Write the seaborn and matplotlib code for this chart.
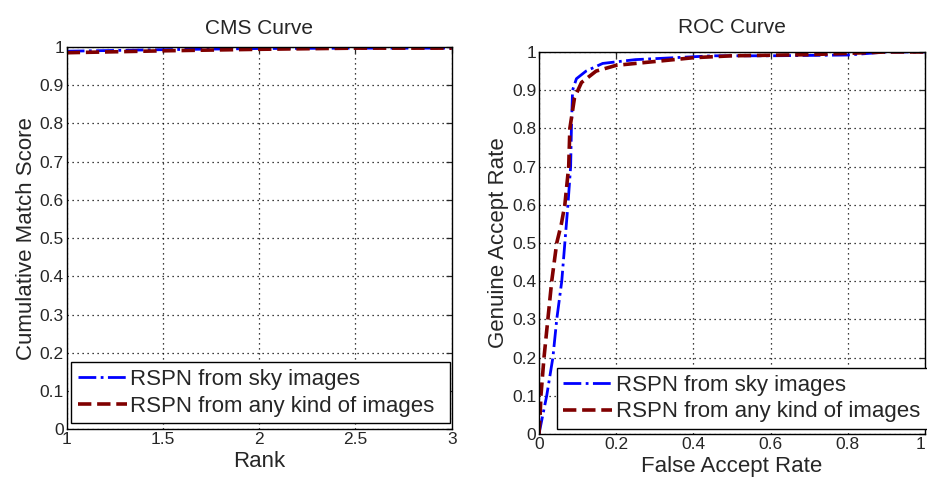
import pandas as pd
import matplotlib
matplotlib.use("Agg")
import matplotlib.pyplot as plt
import seaborn as sns

# CMS curve data
rank = [1, 1.5, 2, 2.5, 3]
cms_sky = [0.989, 0.993, 0.996, 0.997, 0.997]
cms_any = [0.985, 0.990, 0.994, 0.997, 0.997]

# ROC curve data
far_sky = [0, 0.007, 0.02, 0.036, 0.046, 0.059, 0.067, 0.075, 0.082, 0.084, 0.087,
           0.097, 0.122, 0.165, 0.25, 0.35, 0.45, 0.6, 0.8, 0.9, 1.0]
gar_sky = [0, 0.035, 0.1, 0.2, 0.3, 0.4, 0.5, 0.6, 0.7, 0.8, 0.9,
           0.93, 0.95, 0.97, 0.98, 0.985, 0.99, 0.99, 0.992, 1.0, 1.0]
far_any = [0, 0.003, 0.005, 0.013, 0.023, 0.033, 0.046, 0.058, 0.067, 0.077, 0.08,
           0.092, 0.11, 0.148, 0.2, 0.3, 0.4, 0.5, 0.7, 0.9, 1.0]
gar_any = [0, 0.05, 0.1, 0.2, 0.3, 0.4, 0.5, 0.55, 0.6, 0.7, 0.8,
           0.88, 0.92, 0.95, 0.965, 0.975, 0.985, 0.99, 0.993, 1.0, 1.0]

label_sky = "RSPN from sky images"
label_any = "RSPN from any kind of images"
blue = "#0000ff"
red = "#800000"

yticks = [0, 0.1, 0.2, 0.3, 0.4, 0.5, 0.6, 0.7, 0.8, 0.9, 1]
ytick_labels = ["0", "0.1", "0.2", "0.3", "0.4", "0.5", "0.6", "0.7", "0.8", "0.9", "1"]

sns.set_style("white")
plt.rcParams["font.family"] = ["Liberation Sans", "DejaVu Sans"]

fig = plt.figure(figsize=(9.28, 4.88), dpi=100)
ax1 = fig.add_axes([0.0719, 0.1203, 0.4149, 0.7834])
ax2 = fig.add_axes([0.5808, 0.1107, 0.4160, 0.7828])


def style_axes(ax):
    ax.set_ylim(0, 1)
    ax.set_yticks(yticks)
    ax.set_yticklabels(ytick_labels)
    ax.grid(True, color="black", linestyle=(0, (1, 3)), linewidth=0.9)
    ax.tick_params(direction="in", top=True, right=True, labelsize=12.5,
                   length=4, width=0.9, pad=2)
    for s in ax.spines.values():
        s.set_color("black")
        s.set_linewidth(1.0)


legend_kw = dict(loc="lower left", mode="expand", fontsize=16, frameon=True,
                 fancybox=False, edgecolor="black", framealpha=1,
                 handlelength=2.2, handletextpad=0.15, borderpad=0.3,
                 labelspacing=0.25, borderaxespad=0)

# Left: CMS
sns.lineplot(x=rank, y=cms_sky, ax=ax1, color=blue, linestyle="-.", linewidth=2.0,
             label=label_sky, estimator=None, sort=False)
sns.lineplot(x=rank, y=cms_any, ax=ax1, color=red, linestyle="--", linewidth=2.6,
             label=label_any, estimator=None, sort=False)
style_axes(ax1)
ax1.set_xlim(1, 3)
ax1.set_xticks([1, 1.5, 2, 2.5, 3])
ax1.set_xticklabels(["1", "1.5", "2", "2.5", "3"])
ax1.set_title("CMS Curve", fontsize=15, pad=9)
ax1.set_xlabel("Rank", fontsize=16, labelpad=3)
ax1.set_ylabel("Cumulative Match Score", fontsize=16, labelpad=2)
leg1 = ax1.legend(bbox_to_anchor=(0.011, 0.016, 0.984, 0.17), **legend_kw)
leg1.get_frame().set_linewidth(1.0)

# Right: ROC
sns.lineplot(x=far_sky, y=gar_sky, ax=ax2, color=blue, linestyle="-.", linewidth=2.0,
             label=label_sky, estimator=None, sort=False)
sns.lineplot(x=far_any, y=gar_any, ax=ax2, color=red, linestyle="--", linewidth=2.6,
             label=label_any, estimator=None, sort=False)
style_axes(ax2)
ax2.set_xlim(0, 1)
ax2.set_xticks([0, 0.2, 0.4, 0.6, 0.8, 1])
ax2.set_xticklabels(["0", "0.2", "0.4", "0.6", "0.8", "1"])
# keep the last tick label inside the figure edge
ax2.get_xticklabels()[-1].set_horizontalalignment("right")
ax2.set_title("ROC Curve", fontsize=15, pad=14)
ax2.set_xlabel("False Accept Rate", fontsize=16, labelpad=3)
ax2.set_ylabel("Genuine Accept Rate", fontsize=16, labelpad=2)
leg2 = ax2.legend(bbox_to_anchor=(0.046, 0.013, 0.97, 0.17), **legend_kw)
leg2.get_frame().set_linewidth(1.0)

fig.savefig("out.png", dpi=100)
